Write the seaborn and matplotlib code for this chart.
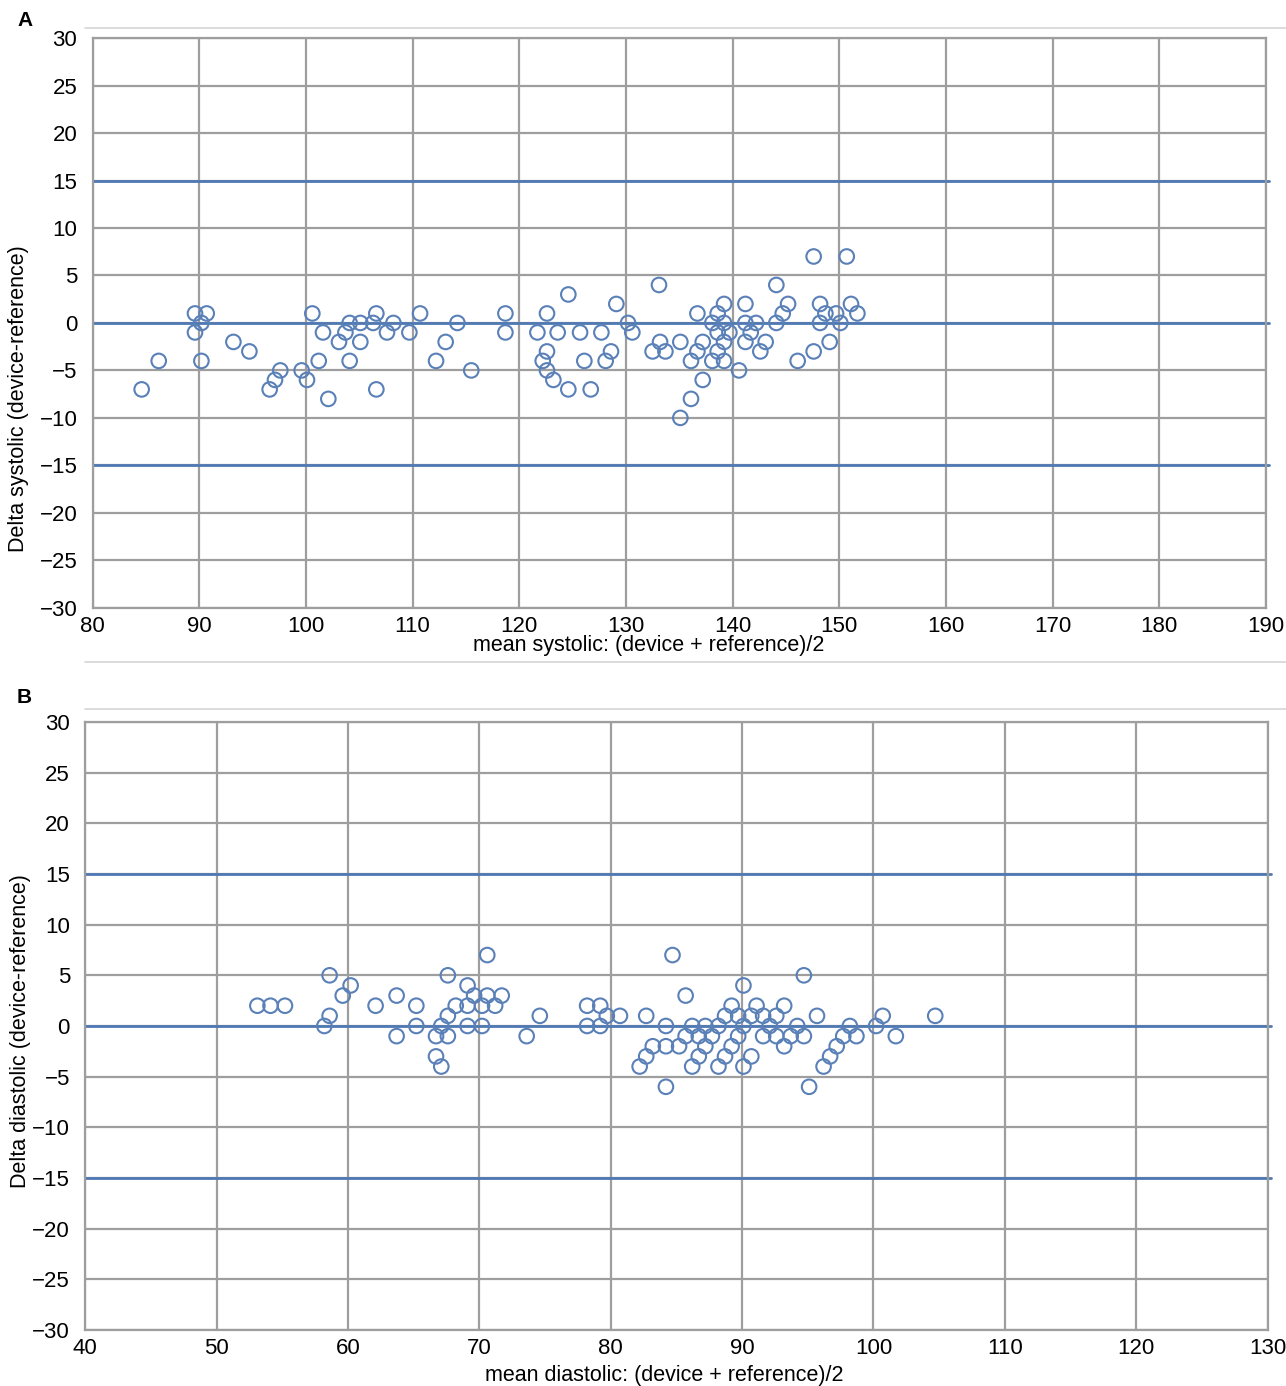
import numpy as np
import pandas as pd
import seaborn as sns
import matplotlib.pyplot as plt
from matplotlib.lines import Line2D

# Panel A: mean systolic vs delta systolic
sys_mean = [84.6, 86.2, 89.6, 90.7, 90.2, 89.6, 90.2, 93.2, 94.7, 96.6, 97.1, 97.6,
            99.6, 100.1, 100.6, 101.2, 101.6, 102.1, 103.1, 103.7, 104.1, 104.1, 105.1,
            105.1, 106.3, 106.6, 106.6, 107.6, 108.2, 109.7, 110.7, 112.2, 113.1, 114.2,
            115.5, 118.7, 118.7, 121.7, 122.6, 124.6, 123.6, 122.6, 122.2, 122.6, 123.2,
            124.6, 125.7, 126.1, 126.7, 127.7, 128.6, 128.1, 129.1, 130.2, 130.6, 133.1,
            132.5, 133.2, 133.7, 135.1, 135.1, 136.1, 136.7, 136.7, 136.1, 137.2, 137.2,
            138.1, 138.6, 139.2, 139.2, 138.6, 139.7, 139.2, 138.6, 138.1, 139.2, 140.6,
            141.2, 141.2, 141.7, 141.2, 142.2, 143.1, 142.6, 144.1, 144.1, 144.7, 145.2,
            146.1, 147.6, 147.6, 148.2, 148.2, 148.7, 149.1, 149.7, 150.1, 150.7, 151.1,
            151.7]
sys_delta = [-7, -4, 1, 1, 0, -1, -4, -2, -3, -7, -6, -5,
             -5, -6, 1, -4, -1, -8, -2, -1, 0, -4, 0,
             -2, 0, 1, -7, -1, 0, -1, 1, -4, -2, 0,
             -5, 1, -1, -1, 1, 3, -1, -3, -4, -5, -6,
             -7, -1, -4, -7, -1, -3, -4, 2, 0, -1, 4,
             -3, -2, -3, -2, -10, -8, 1, -3, -4, -2, -6,
             0, 1, 2, 0, -1, -1, -2, -3, -4, -4, -5,
             2, 0, -1, -2, 0, -2, -3, 4, 0, 1, 2,
             -4, 7, -3, 2, 0, 1, -2, 1, 0, 7, 2,
             1]

# Panel B: mean diastolic vs delta diastolic
dia_mean = [53.1, 54.1, 55.2, 58.6, 58.6, 58.2, 59.6, 60.2, 62.1, 63.7, 63.7, 65.2,
            65.2, 66.7, 66.7, 67.1, 67.1, 67.6, 67.6, 67.6, 68.2, 69.1, 69.1, 69.1,
            69.6, 70.2, 70.2, 70.6, 70.6, 71.2, 71.7, 73.6, 74.6,
            78.2, 78.2, 79.2, 79.2, 79.7, 80.7, 82.2, 82.7, 82.7, 83.2, 84.2, 84.2,
            84.2, 84.7, 85.2, 85.7, 85.7, 86.2, 86.2, 86.7, 86.7, 87.2, 87.2, 87.7,
            88.2, 88.2, 88.7, 88.7, 89.2, 89.2, 89.7, 89.7, 90.1, 90.1, 90.1, 90.7,
            90.7, 91.1, 91.6, 91.6, 92.1, 92.6, 92.6, 93.2, 93.2, 93.7, 94.2, 94.7,
            94.7, 95.1, 95.7, 96.2, 96.7, 97.2, 97.7, 98.2, 98.7, 100.2, 100.7, 101.7,
            104.7]
dia_delta = [2, 2, 2, 5, 1, 0, 3, 4, 2, 3, -1, 2,
             0, -1, -3, -4, 0, 5, 1, -1, 2, 4, 2, 0,
             3, 2, 0, 7, 3, 2, 3, -1, 1,
             2, 0, 2, 0, 1, 1, -4, -3, 1, -2, 0, -2,
             -6, 7, -2, 3, -1, 0, -4, -1, -3, 0, -2, -1,
             0, -4, 1, -3, 2, -2, 1, -1, 4, 0, -4, 1,
             -3, 2, 1, -1, 0, 1, -1, 2, -2, -1, 0, 5,
             -1, -6, 1, -4, -3, -2, -1, 0, -1, 0, 1, -1,
             1]

limits = [15, 0, -15]

sns.set_style("white")
plt.rcParams['font.family'] = ['Liberation Sans', 'DejaVu Sans']
plt.rcParams['text.color'] = 'black'
plt.rcParams['axes.labelcolor'] = 'black'
plt.rcParams['xtick.labelcolor'] = 'black'
plt.rcParams['ytick.labelcolor'] = 'black'

grid_c = '#9e9e9e'
line_c = '#4f79b4'
pt_c = '#5a80b8'

fig = plt.figure(figsize=(12.86, 13.86), dpi=100)


def bland_altman(ax, x, y, xlim, xticks, xlabel, ylabel, xlab_pos, ylab_pos):
    df = pd.DataFrame({'mean': x, 'delta': y})
    for v in limits:
        ax.axhline(v, color=line_c, lw=2, zorder=2, xmax=1.003, clip_on=False)
    sns.scatterplot(data=df, x='mean', y='delta', ax=ax, marker='o', s=110,
                    facecolor='none', edgecolor=pt_c, linewidth=1.5, zorder=3)
    ax.set_xlim(*xlim)
    ax.set_ylim(-30, 30)
    ax.set_xticks(xticks)
    ax.set_yticks(np.arange(-30, 31, 5))
    ax.grid(True, color=grid_c, lw=1.6, zorder=0)
    ax.set_axisbelow(True)
    for sp in ax.spines.values():
        sp.set_color(grid_c)
        sp.set_linewidth(1.6)
    ax.tick_params(axis='y', length=5, width=1.6, color=grid_c, pad=6, labelsize=16)
    ax.tick_params(axis='x', length=0, pad=6, labelsize=16)
    ax.set_xlabel(xlabel, fontsize=15.5, va='top')
    ax.set_ylabel(ylabel, fontsize=15.5)
    ax.xaxis.set_label_coords(*xlab_pos)
    ax.yaxis.set_label_coords(*ylab_pos)


ax1 = fig.add_axes([0.0720, 0.5615, 0.9124, 0.4110])
bland_altman(ax1, sys_mean, sys_delta, (80, 190), np.arange(80, 191, 10),
             'mean systolic: (device + reference)/2', 'Delta systolic (device-reference)',
             (0.474, -0.047), (-0.054, 0.367))

ax2 = fig.add_axes([0.0663, 0.0404, 0.9194, 0.4387])
bland_altman(ax2, dia_mean, dia_delta, (40, 130), np.arange(40, 131, 10),
             'mean diastolic: (device + reference)/2', 'Delta diastolic (device-reference)',
             (0.490, -0.057), (-0.046, 0.492))

fig.text(17 / 1286, 1 - 20 / 1386, 'A', fontsize=15, fontweight='bold', va='center', ha='left')
fig.text(17 / 1286, 1 - 697 / 1386, 'B', fontsize=15, fontweight='bold', va='center', ha='left')

# thin separators between panels
for yy in [28, 662, 709]:
    fig.add_artist(Line2D([85 / 1286, 1.0], [1 - yy / 1386] * 2, color='#d6d6d6', lw=1.2))

fig.savefig('out.png', dpi=100)
